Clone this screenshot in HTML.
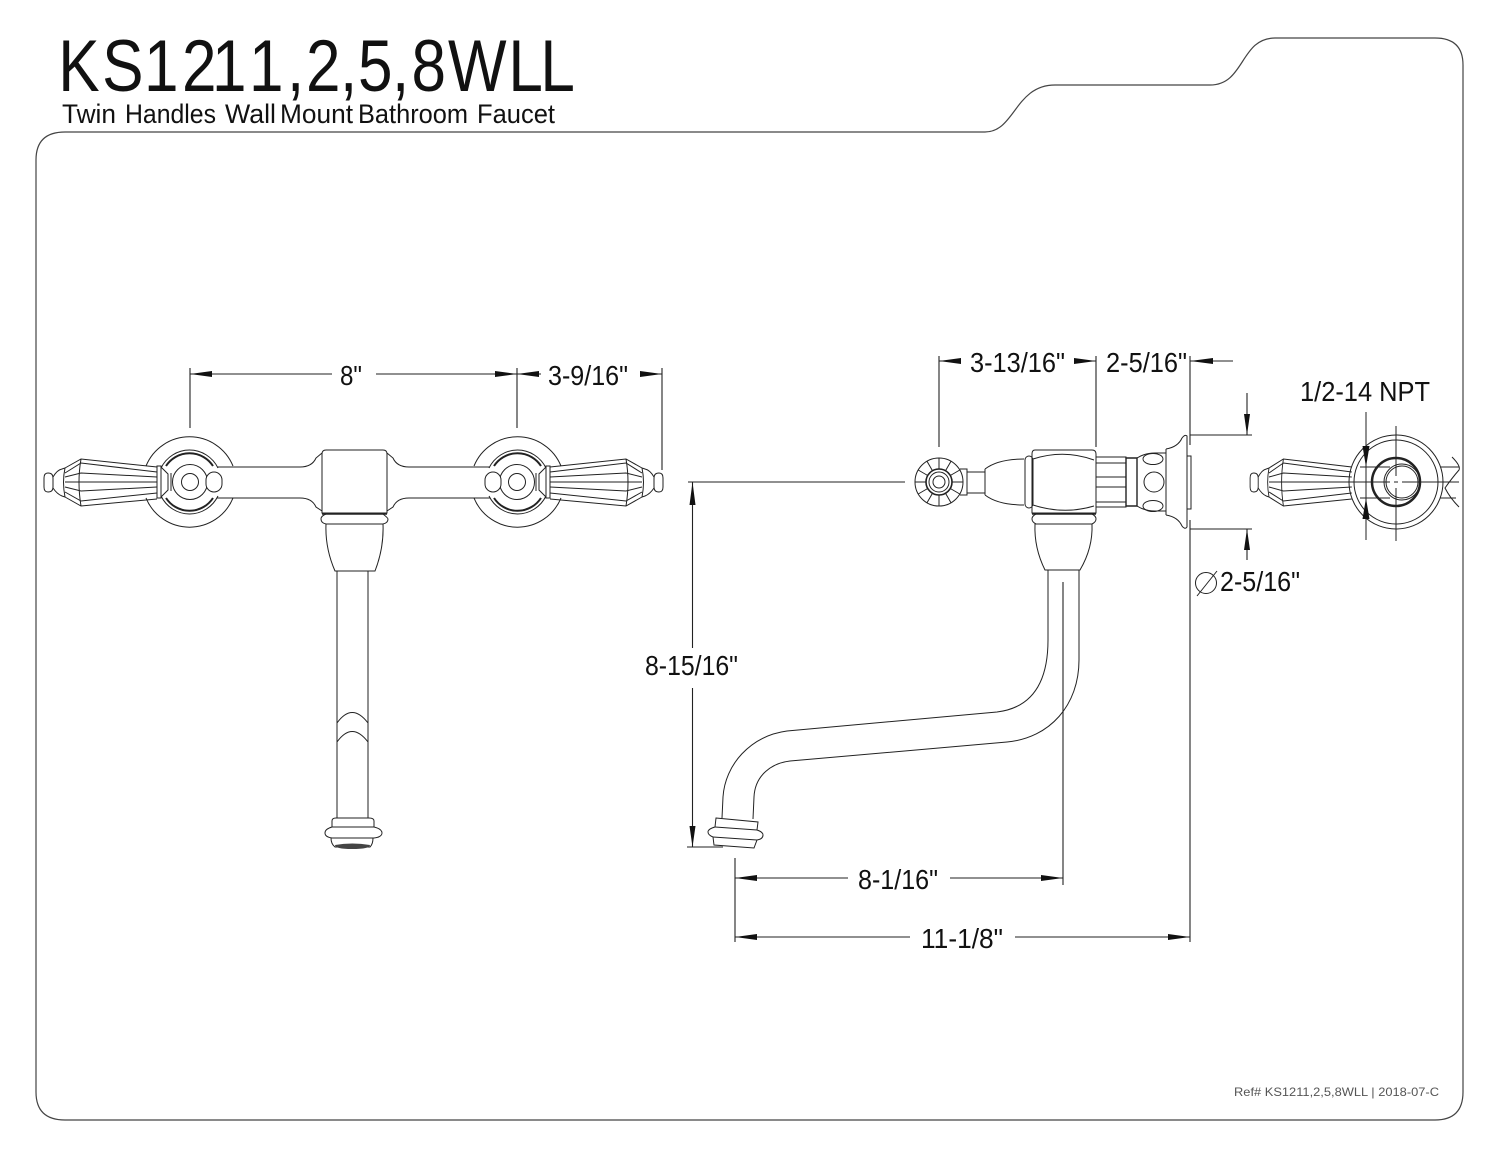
<!DOCTYPE html>
<html><head><meta charset="utf-8"><title>KS1211,2,5,8WLL</title>
<style>
html,body{margin:0;padding:0;background:#fff}
svg{display:block}
text{font-family:"Liberation Sans",sans-serif;fill:#111}
.l{fill:none;stroke:#222;stroke-width:1}
.d{fill:none;stroke:#222;stroke-width:1.1}
.b{fill:none;stroke:#444;stroke-width:1.2}
.a{fill:#111;stroke:none}
</style></head><body>
<svg xmlns="http://www.w3.org/2000/svg" width="1500" height="1159" viewBox="0 0 1500 1159">
<defs>
<g id="hb">
<path class="l" d="M44 478Q44 473 48 473Q53 473 53 478V487Q53 492 48 492Q44 492 44 487Z"/>
<path class="l" d="M53 477Q57 470 62 469L65 468M53 488Q57 494 62 496L65 497"/>
<path class="l" d="M65 468L81 459L157 467M65 497L81 506L157 499M65 468Q62 482 65 497M81 459Q77 482 81 506"/>
<path class="l" d="M65 473L81 463L157 472M65 477L81 473L157 477M65 482H157M65 487L81 491L157 487M65 492L81 501L157 493"/>
</g>
<g id="esc">
<use href="#hb"/>
<path class="l" d="M157 466H161V498H157Z"/>
<path class="l" d="M146 466A47 47 0 0 1 233 466M146 498A47 47 0 0 0 233 498"/>
<path class="l" d="M161 468A32 33 0 0 1 218 468M161 496A32 33 0 0 0 218 496"/>
<path class="l" style="stroke-width:2" d="M166 466A28 28 0 0 1 213 466M166 498A28 28 0 0 0 213 498"/>
<circle class="l" cx="190" cy="482" r="17.500"/>
<circle class="l" cx="190" cy="482" r="8.500"/>
<rect x="206" y="472" width="16" height="20" rx="8" style="fill:#fff;stroke:#222;stroke-width:1"/>
<path class="l" d="M161 467L168 474V490L161 497M171 473V491"/>
</g>
</defs>
<rect width="1500" height="1159" fill="#fff"/>

<!-- border -->
<path class="b" d="M36 160Q36 132 65 132H985C1015 132 1015 85 1055 85H1210C1245 85 1240 38 1275 38H1435Q1463 38 1463 65V1092Q1463 1120 1435 1120H65Q36 1120 36 1092Z"/>

<!-- titles -->
<text transform="scale(.85,1)" y="91" font-size="73" x="68.6 120.2 169.4 214.1 249.4 292.9 337.6 360 400 421.2 461.2 484.1 527.1 598.1 635.8">KS1211,2,5,8WLL</text>
<text x="62" y="123" font-size="27" textLength="54" lengthAdjust="spacingAndGlyphs">Twin</text>
<text x="125" y="123" font-size="27" textLength="91" lengthAdjust="spacingAndGlyphs">Handles</text>
<text x="225" y="123" font-size="27" textLength="51" lengthAdjust="spacingAndGlyphs">Wall</text>
<text x="280" y="123" font-size="27" textLength="73" lengthAdjust="spacingAndGlyphs">Mount</text>
<text x="358" y="123" font-size="27" textLength="110" lengthAdjust="spacingAndGlyphs">Bathroom</text>
<text x="477" y="123" font-size="27" textLength="78" lengthAdjust="spacingAndGlyphs">Faucet</text>
<text x="1234" y="1096" font-size="12" style="fill:#555" textLength="205" lengthAdjust="spacingAndGlyphs">Ref# KS1211,2,5,8WLL | 2018-07-C</text>

<!-- FRONT VIEW -->
<use href="#esc"/>
<use href="#esc" transform="translate(707,0) scale(-1,1)"/>
<path class="l" d="M217 467H300Q312 467 316 458L322 453M217 498H300Q312 498 316 507L322 511"/>
<path class="l" d="M490 467H409Q397 467 393 458L387 453M490 498H409Q397 498 393 507L387 511"/>
<path class="l" d="M326 450H383Q387 450 387 454V513H322V454Q322 450 326 450Z"/>
<path class="l" style="stroke-width:1.6" d="M322 514H387"/>
<path class="l" d="M326 514H383Q388 518 388 519Q388 523 383 524H326Q321 523 321 519Q321 516 326 514Z"/>
<path class="l" d="M326 524Q325 548 335 571H375Q384 548 383 524"/>
<path class="l" d="M337 571V818M368 571V818"/>
<path class="l" d="M337 723Q352 702 368 723M337 742Q352 721 368 742"/>
<path class="l" d="M337 818H369Q374 818 374 821V827M337 818H336Q332 818 332 821V827"/>
<path class="l" d="M332 827H374Q382 829 382 833Q382 837 374 838H332Q325 837 325 833Q325 829 332 827Z"/>
<path class="l" d="M331 838Q331 844 335 847H370Q373 844 373 838"/>
<path d="M335 845Q352 842 370 845Q370 849 352 849Q335 849 335 845Z" fill="#444"/>

<!-- front dims -->
<path class="d" d="M190 368V428M517 368V428M662 368V470"/>
<path class="d" d="M190 374H332M376 374H517M517 374H541M640 374H662"/>
<path class="a" d="M190 374L212 371V377ZM517 374L495 371V377ZM517 374L539 371V377ZM662 374L640 371V377Z"/>
<text x="340" y="385" font-size="28" textLength="22" lengthAdjust="spacingAndGlyphs">8"</text>
<text x="548" y="385" font-size="28" textLength="80" lengthAdjust="spacingAndGlyphs">3-9/16"</text>

<!-- SIDE VIEW -->
<circle class="l" cx="939" cy="482" r="24"/>
<circle class="l" style="stroke-width:1.6" cx="939" cy="482" r="13"/>
<circle class="l" cx="939" cy="482" r="10"/>
<circle class="l" cx="939" cy="482" r="6"/>
<path class="l" d="M952 482H963M950.3 488.5L959.8 494M945.5 493.3L951 502.8M939 495V506M932.5 493.3L927 502.8M927.7 488.5L918.2 494M926 482H915M927.7 475.5L918.2 470M932.5 470.7L927 461.2M939 469V458M945.5 470.7L951 461.2M950.3 475.5L959.8 470"/>
<path class="l" d="M960 469H967V495H960M967 472H985M967 493H985M985 469V495"/>
<path class="l" d="M985 469Q998 459 1024 459M985 495Q998 505 1024 505"/>
<rect class="l" x="1025" y="456" width="8" height="52" rx="4"/>
<path class="l" d="M1035 450H1092Q1096 450 1096 454V513H1032V454Q1032 450 1035 450Z"/>
<path class="l" d="M1033 459Q1064 449 1094 460M1033 505Q1064 515 1094 506"/>
<path class="l" style="stroke-width:1.6" d="M1032 514H1096"/>
<path class="l" d="M1036 514H1092Q1096 516 1096 519Q1096 522 1092 524H1036Q1032 522 1032 519Q1032 516 1036 514Z"/>
<path class="l" d="M1035 524Q1034 548 1045 570H1080Q1093 548 1092 524"/>
<path class="l" d="M1096 457H1126V507H1096ZM1096 463H1126M1096 477H1126M1096 487H1126M1096 502H1126"/>
<path class="l" style="stroke-width:1.4" d="M1126 458H1137V506H1126Z"/>
<path class="l" d="M1137 458Q1145 453 1155 453H1166M1137 506Q1145 511 1155 511H1166M1166 449V515"/>
<ellipse class="l" cx="1153" cy="459" rx="10" ry="5.500"/>
<ellipse class="l" cx="1153" cy="506" rx="10" ry="5.500"/>
<circle class="l" cx="1154" cy="482" r="10"/>
<path class="l" d="M1166 449Q1178 447 1182 438Q1185 434 1187 436V527Q1185 530 1182 526Q1178 517 1166 515"/>
<path class="l" d="M1187 456H1191V509H1187"/>

<!-- spout -->
<path class="l" d="M1048 570V640C1048 685 1030 708 997 712L787 731C750 736 725 765 723 797L722 818"/>
<path class="l" d="M1079 570V660C1079 705 1050 738 1007 742L790 761C772 763 755 775 754 797L753 819"/>
<path class="l" d="M716 818L758 822L757 830Q763 832 763 835Q763 839 757 840L754 848L714 845L713 837Q708 835 708 832Q708 829 715 827Z"/>
<path class="l" d="M715 827L757 830M713 837L757 840"/>

<!-- side dims -->
<path class="d" d="M939 356V447M1096 356V447M1190 356V445M1190 520V942"/>
<path class="d" d="M939 361H961M1075 361H1096M1190 361H1233"/>
<path class="a" d="M939 361L961 358V364ZM1096 361L1074 358V364ZM1190 361L1213 358V364Z"/>
<text x="970" y="372" font-size="28" textLength="95" lengthAdjust="spacingAndGlyphs">3-13/16"</text>
<text x="1106" y="372" font-size="28" textLength="81" lengthAdjust="spacingAndGlyphs">2-5/16"</text>

<path class="d" d="M688 482H905M692.500 482V648M692.500 688V847M687 847H723"/>
<path class="a" d="M692.500 482L689.500 505H695.500ZM692.500 847L689.500 826H695.500Z"/>
<text x="645" y="675" font-size="28" textLength="93" lengthAdjust="spacingAndGlyphs">8-15/16"</text>

<path class="d" d="M1063 582V885M735 858V942"/>
<path class="d" d="M735 878H848M950 878H1063M735 937H910M1015 937H1190"/>
<path class="a" d="M735 878L757 875V881ZM1063 878L1041 875V881ZM735 937L757 934V940ZM1190 937L1168 934V940Z"/>
<text x="858" y="889" font-size="28" textLength="80" lengthAdjust="spacingAndGlyphs">8-1/16"</text>
<text x="921" y="948" font-size="28" textLength="82" lengthAdjust="spacingAndGlyphs">11-1/8"</text>

<!-- diameter dims -->
<path class="d" d="M1190 435H1252M1190 529H1252M1247 393V435M1247 529V560"/>
<path class="a" d="M1247 435L1244 414H1250ZM1247 529L1244 550H1250Z"/>
<circle class="l" cx="1206" cy="583" r="10.500"/>
<path class="l" d="M1197 596L1217 571"/>
<text x="1220" y="591" font-size="28" textLength="80" lengthAdjust="spacingAndGlyphs">2-5/16"</text>
<text x="1300" y="401" font-size="28" textLength="130" lengthAdjust="spacingAndGlyphs">1/2-14 NPT</text>

<!-- end view -->
<use href="#hb" transform="translate(1210.500,0) scale(.9,1)"/>
<circle class="l" cx="1396" cy="482" r="47"/>
<circle class="l" cx="1396" cy="482" r="42"/>
<circle class="l" style="stroke-width:2.5" cx="1396" cy="482" r="24"/>
<circle class="l" cx="1402" cy="482" r="18"/>
<circle class="l" cx="1402" cy="482" r="16"/>
<path class="l" d="M1396 426V476M1396 488V541M1350 482H1390M1394 482H1398M1402 482H1459"/>
<path class="l" d="M1366 412V540M1360 467H1390M1360 498H1390"/>
<path class="a" d="M1366 467L1362.500 446H1369.500ZM1366 498L1362.500 519H1369.500Z"/>
<path class="l" d="M1440 467H1459M1440 498H1456M1452 457Q1461 466 1459 470Q1452 478 1445 488Q1450 498 1459 507"/>
</svg>
</body></html>
